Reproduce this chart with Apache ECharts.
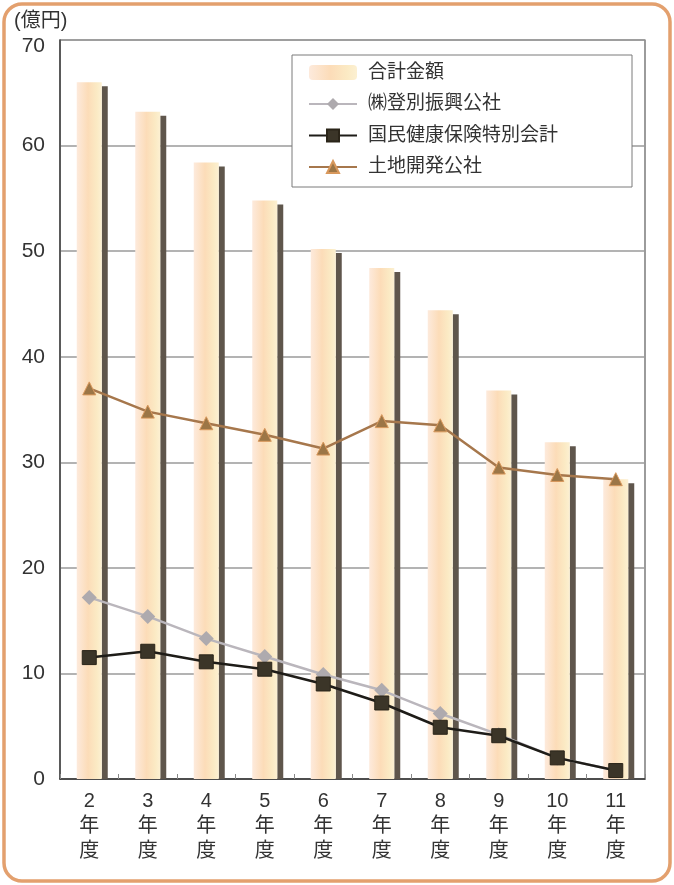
<!DOCTYPE html>
<html>
<head>
<meta charset="utf-8">
<script src="https://cdn.jsdelivr.net/npm/echarts@6/dist/echarts.min.js"></script>
<style>
  html, body { margin: 0; padding: 0; background: #ffffff; }
  #chart { width: 674px; height: 885px; }
</style>
</head>
<body>
<div id="chart"></div>
<script>
// Fiscal years (平成)
const categories = ['2年度', '3年度', '4年度', '5年度', '6年度', '7年度', '8年度', '9年度', '10年度', '11年度'];

// Amounts in 億円
const totalAmount   = [66.0, 63.2, 58.4, 54.8, 50.2, 48.4, 44.4, 36.8, 31.9, 28.4];
const noboribetsu   = [17.2, 15.4, 13.3, 11.6, 9.9, 8.4, 6.2, 4.2, 2.0, 0.8];
const healthIns     = [11.5, 12.1, 11.1, 10.4, 9.0, 7.2, 4.9, 4.1, 2.0, 0.8];
const landDev       = [37.0, 34.8, 33.7, 32.6, 31.3, 33.9, 33.5, 29.5, 28.8, 28.4];

const yTicks = { min: 0, max: 70, interval: 10 };

const seriesNames = ['合計金額', '㈱登別振興公社', '国民健康保険特別会計', '土地開発公社'];

const FONT = "'Liberation Sans', 'Noto Sans CJK JP', sans-serif";
const BAR_W = 25;

const chart = echarts.init(document.getElementById('chart'), null, { renderer: 'canvas' });

const barGradient = new echarts.graphic.LinearGradient(0, 0, 1, 0, [
  { offset: 0, color: '#fdeadc' },
  { offset: 0.45, color: '#fcdcb8' },
  { offset: 0.8, color: '#fbeac4' },
  { offset: 1, color: '#fcf0d2' }
]);

chart.setOption({
  animation: false,
  backgroundColor: '#ffffff',
  title: {
    text: '(億円)',
    left: 9,
    top: 6,
    textStyle: { fontFamily: FONT, fontSize: 20, fontWeight: 'normal', color: '#333333' }
  },
  graphic: [
    {
      type: 'rect',
      z: -10,
      shape: { x: 4, y: 4, width: 666, height: 877, r: 18 },
      style: { fill: 'rgba(0,0,0,0)', stroke: '#e3a06e', lineWidth: 3.5 }
    },
    {
      type: 'rect',
      z: 3,
      shape: { x: 292, y: 55, width: 340, height: 132 },
      style: { fill: '#ffffff', stroke: '#7a7a7a', lineWidth: 1 }
    }
  ],
  legend: {
    data: seriesNames,
    orient: 'vertical',
    left: 308,
    top: 63,
    z: 5,
    itemWidth: 48,
    itemHeight: 15,
    itemGap: 12.5,
    padding: 0,
    textStyle: {
      fontFamily: FONT,
      fontSize: 19,
      color: '#333333',
      padding: [0, 0, 0, 6]
    }
  },
  grid: {
    left: 60,
    right: 29,
    top: 40,
    bottom: 106,
    show: true,
    borderColor: '#5a5a5a',
    borderWidth: 1.2,
    containLabel: false
  },
  xAxis: {
    type: 'category',
    data: categories,
    boundaryGap: true,
    axisLine: { lineStyle: { color: '#333333', width: 1.5 } },
    axisTick: { show: true, inside: true, length: 5, lineStyle: { color: '#888888' } },
    axisLabel: {
      fontFamily: FONT,
      fontSize: 20,
      lineHeight: 25,
      color: '#333333',
      margin: 10,
      formatter: v => v.replace('年度', '\n年\n度')
    }
  },
  yAxis: {
    type: 'value',
    min: yTicks.min,
    max: yTicks.max,
    interval: yTicks.interval,
    axisLine: { show: true, lineStyle: { color: '#444444', width: 1.5 } },
    axisTick: { show: false },
    axisLabel: {
      fontFamily: FONT,
      fontSize: 21,
      color: '#333333',
      margin: 15,
      // the top label sits a little below the frame so it clears the unit text
      formatter: v => (v === yTicks.max ? '{top|' + v + '}' : String(v)),
      rich: { top: { fontFamily: FONT, fontSize: 21, color: '#333333', padding: [12, 0, 0, 0] } }
    },
    splitLine: { lineStyle: { color: '#9a9a9a', width: 1.5 } }
  },
  series: [
    {
      name: seriesNames[0],
      type: 'bar',
      data: totalAmount,
      barWidth: BAR_W,
      itemStyle: { color: barGradient },
      z: 2
    },
    {
      // dark side face to the right of each bar
      name: 'side',
      type: 'custom',
      z: 2,
      silent: true,
      data: totalAmount.map((v, i) => [i, v]),
      renderItem: (params, api) => {
        const top = api.coord([api.value(0), api.value(1)]);
        const base = api.coord([api.value(0), 0]);
        const x = top[0] + BAR_W / 2;
        const y = top[1] + 4;
        return {
          type: 'rect',
          shape: { x: x, y: y, width: 6, height: base[1] - y },
          style: { fill: '#5f564c' }
        };
      }
    },
    {
      name: seriesNames[1],
      type: 'line',
      data: noboribetsu,
      symbol: 'diamond',
      symbolSize: 15,
      lineStyle: { color: '#bab6bc', width: 2.5 },
      itemStyle: { color: '#aeaaae' },
      z: 4
    },
    {
      name: seriesNames[2],
      type: 'line',
      data: healthIns,
      symbol: 'rect',
      symbolSize: 14,
      lineStyle: { color: '#1e1c18', width: 2.5 },
      itemStyle: { color: '#3b3528', borderColor: '#2a2418', borderWidth: 1 },
      z: 5
    },
    {
      name: seriesNames[3],
      type: 'line',
      data: landDev,
      symbol: 'triangle',
      symbolSize: 13,
      lineStyle: { color: '#a6774c', width: 2.5 },
      itemStyle: { color: '#9c7646', borderColor: '#d8985c', borderWidth: 1 },
      z: 4
    }
  ]
});
</script>
</body>
</html>
